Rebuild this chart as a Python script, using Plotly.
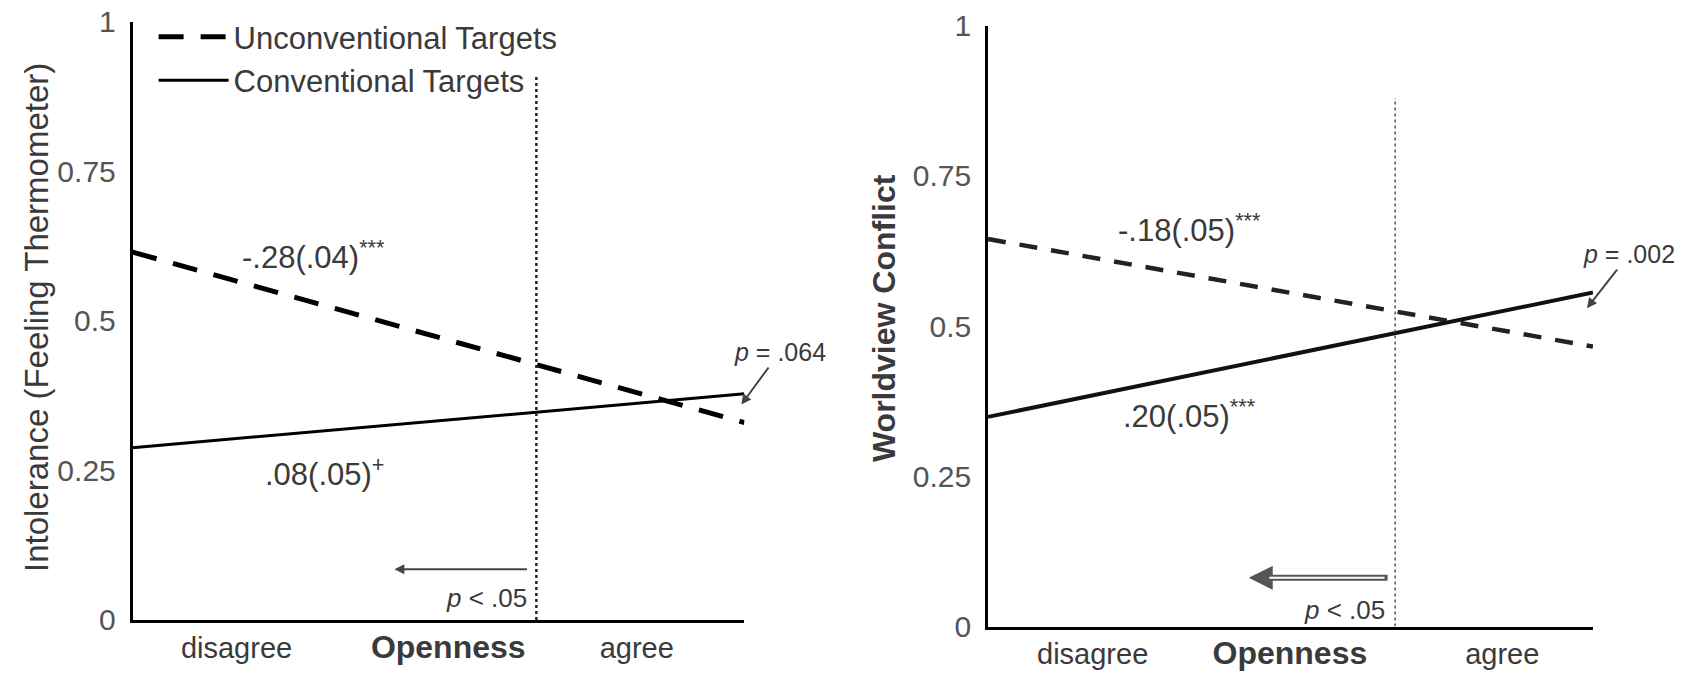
import plotly.graph_objects as go

# ---- data ----
x_levels = [0, 1]  # disagree -> agree (Openness)
left_unconv = [0.615, 0.33]
left_conv = [0.288, 0.378]
right_unconv = [0.645, 0.466]
right_conv = [0.349, 0.556]
left_cut = 0.66
right_cut = 0.673
series_names = ["Unconventional Targets", "Conventional Targets"]
x_tick_labels = ["disagree", "<b><span style='font-size:32px'>Openness</span></b>", "agree"]
left_tick_pos = [0.17, 0.516, 0.824]
right_tick_pos = [0.173, 0.499, 0.85]
y_ticks = [0, 0.25, 0.5, 0.75, 1]
y_tick_text = ["0", "0.25", "0.5", "0.75", "1"]

FONT = "Liberation Sans, Arial, sans-serif"
TXT = "#3a3a3a"

fig = go.Figure()

fig.add_trace(go.Scatter(x=x_levels, y=left_unconv, mode="lines", name=series_names[0],
                         line=dict(color="black", width=5, dash="25px,17px"),
                         xaxis="x", yaxis="y"))
fig.add_trace(go.Scatter(x=x_levels, y=left_conv, mode="lines", name=series_names[1],
                         line=dict(color="black", width=3), xaxis="x", yaxis="y"))
fig.add_trace(go.Scatter(x=x_levels, y=right_unconv, mode="lines", showlegend=False,
                         line=dict(color="#222", width=4.5, dash="18px,14px"),
                         xaxis="x2", yaxis="y2"))
fig.add_trace(go.Scatter(x=x_levels, y=right_conv, mode="lines", showlegend=False,
                         line=dict(color="#111", width=4), xaxis="x2", yaxis="y2"))
# cut-point verticals
fig.add_trace(go.Scatter(x=[left_cut, left_cut], y=[0, 0.91], mode="lines", showlegend=False,
                         line=dict(color="#222", width=2.5, dash="dot"), xaxis="x", yaxis="y"))
fig.add_trace(go.Scatter(x=[right_cut, right_cut], y=[0, 0.88], mode="lines", showlegend=False,
                         line=dict(color="#555", width=1.5, dash="dot"), xaxis="x2", yaxis="y2"))

axis_common = dict(range=[0, 1], showgrid=False, zeroline=False, showline=True,
                   linecolor="black", linewidth=2.5, ticks="", fixedrange=True,
                   automargin=False)

fig.update_layout(
    width=1688, height=679,
    margin=dict(l=0, r=0, t=0, b=0, autoexpand=False),
    paper_bgcolor="white", plot_bgcolor="white",
    font=dict(family=FONT, color=TXT, size=26),
    xaxis=dict(domain=[0.0785, 0.441], tickmode="array", tickvals=left_tick_pos,
               ticktext=x_tick_labels, tickfont=dict(size=29, color=TXT), anchor="y",
               **axis_common),
    yaxis=dict(domain=[0.0869, 0.968], tickmode="array", tickvals=y_ticks,
               ticktext=y_tick_text, tickfont=dict(size=30, color="#555"), anchor="x",
               ticklabelstandoff=8, **axis_common),
    xaxis2=dict(domain=[0.5853, 0.9437], tickmode="array", tickvals=right_tick_pos,
                ticktext=x_tick_labels, tickfont=dict(size=29, color=TXT), anchor="y2",
                **axis_common),
    yaxis2=dict(domain=[0.0773, 0.962], tickmode="array", tickvals=y_ticks,
                ticktext=y_tick_text, tickfont=dict(size=30, color="#555"), anchor="x2",
                ticklabelstandoff=8, **axis_common),
    legend=dict(x=0.091, y=0.985, xanchor="left", yanchor="top", bgcolor="rgba(0,0,0,0)",
                font=dict(size=31, color=TXT), itemwidth=70, tracegroupgap=0),
    showlegend=True,
)

ann = []
# y-axis titles
ann.append(dict(text="Intolerance (Feeling Thermometer)", xref="paper", yref="paper",
                x=36 / 1688, y=1 - 318 / 679, xanchor="center", yanchor="middle",
                textangle=-90, showarrow=False, font=dict(size=33, color=TXT)))
ann.append(dict(text="<b>Worldview Conflict</b>", xref="paper", yref="paper",
                x=884 / 1688, y=1 - 318 / 679, xanchor="center", yanchor="middle",
                textangle=-90, showarrow=False, font=dict(size=32, color=TXT)))
# slope labels
ann.append(dict(text="-.28(.04)<sup>***</sup>", xref="x", yref="y", x=0.296, y=0.61,
                showarrow=False, font=dict(size=31, color=TXT)))
ann.append(dict(text=".08(.05)<sup>+</sup>", xref="x", yref="y", x=0.314, y=0.248,
                showarrow=False, font=dict(size=31, color=TXT)))
ann.append(dict(text="-.18(.05)<sup>***</sup>", xref="x2", yref="y2", x=0.333, y=0.663,
                showarrow=False, font=dict(size=31, color=TXT)))
ann.append(dict(text=".20(.05)<sup>***</sup>", xref="x2", yref="y2", x=0.333, y=0.353,
                showarrow=False, font=dict(size=31, color=TXT)))
# p-value callouts with arrows
ann.append(dict(text="<i>p</i> = .064", xref="x", yref="y", x=0.995, y=0.36,
                axref="x", ayref="y", ax=1.058, ay=0.448, showarrow=True,
                arrowhead=2, arrowsize=1, arrowwidth=2, arrowcolor="#444",
                font=dict(size=25, color=TXT)))
ann.append(dict(text="<i>p</i> = .002", xref="x2", yref="y2", x=0.99, y=0.53,
                axref="x2", ayref="y2", ax=1.06, ay=0.62, showarrow=True,
                arrowhead=2, arrowsize=1, arrowwidth=2, arrowcolor="#444",
                font=dict(size=25, color=TXT)))
# region of significance arrows
ann.append(dict(text="", xref="x", yref="y", x=0.428, y=0.085, axref="x", ayref="y",
                ax=0.647, ay=0.085, showarrow=True, arrowhead=2, arrowsize=1,
                arrowwidth=2, arrowcolor="#444"))
ann.append(dict(text="", xref="x2", yref="y2", x=0.431, y=0.081, axref="x2", ayref="y2",
                ax=0.663, ay=0.081, showarrow=True, arrowhead=2, arrowsize=0.8,
                arrowwidth=6, arrowcolor="#555"))
ann.append(dict(text="", xref="x2", yref="y2", x=0.465, y=0.081, axref="x2", ayref="y2",
                ax=0.658, ay=0.081, showarrow=True, arrowhead=0,
                arrowwidth=2, arrowcolor="white"))
ann.append(dict(text="<i>p</i> < .05", xref="x", yref="y", x=0.648, y=0.036,
                xanchor="right", showarrow=False, font=dict(size=26, color=TXT)))
ann.append(dict(text="<i>p</i> < .05", xref="x2", yref="y2", x=0.66, y=0.027,
                xanchor="right", showarrow=False, font=dict(size=26, color=TXT)))
fig.update_layout(annotations=ann)

fig.write_html("out.html", config={"displayModeBar": False},
               post_script="document.body.style.margin='0';document.body.style.overflow='hidden';")
